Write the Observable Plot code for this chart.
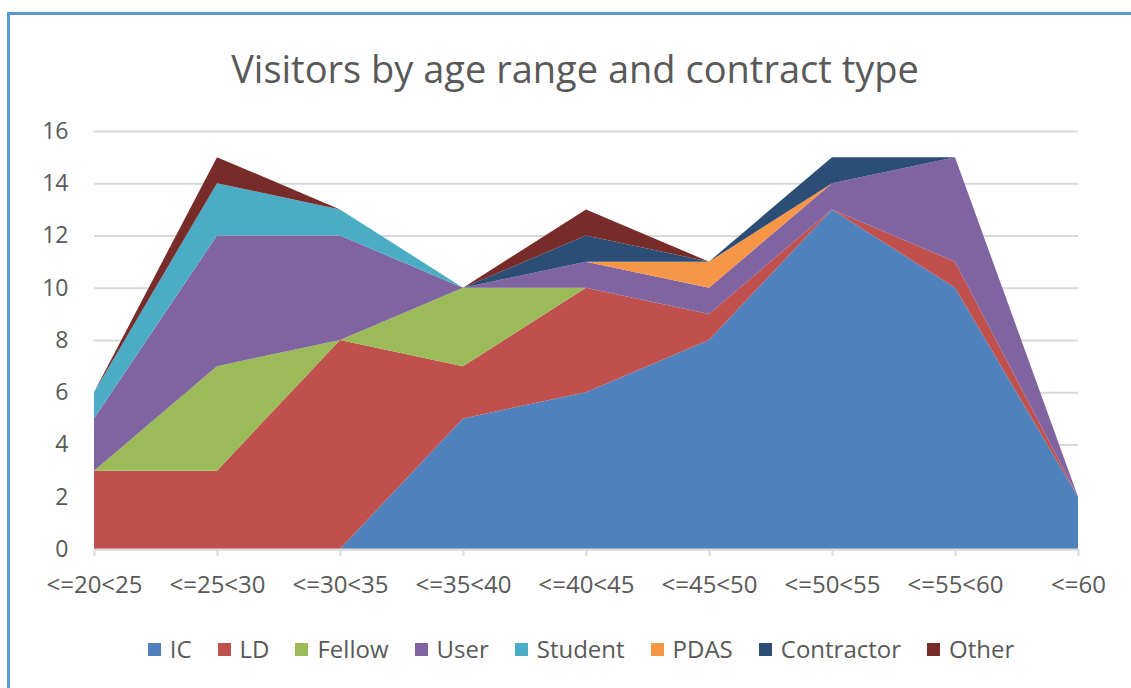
<!DOCTYPE html>
<html>
<head>
<meta charset="utf-8">
<script src="https://cdn.jsdelivr.net/npm/d3@7"></script>
<script src="https://cdn.jsdelivr.net/npm/@observablehq/plot@0.6"></script>
<style>
  body { margin: 0; background: #fff; font-family: "Open Sans", "Noto Sans", sans-serif; }
  #frame { position: absolute; left: 7px; top: 12px; width: 1200px; height: 800px;
           border-left: 3px solid #5b9bd5; border-top: 3px solid #5b9bd5; box-sizing: border-box; }
  #wrap { position: relative; width: 1131px; height: 688px; overflow: hidden; }
  #title { position: absolute; top: 42px; left: 0; width: 1150px; text-align: center;
           font-size: 38px; line-height: 52px; color: #595959; }
  #chart { position: absolute; top: 100px; left: 0; }
  #legend { position: absolute; top: 632px; left: 0; width: 1162px; display: flex; justify-content: center;
            gap: 26px; font-size: 24px; line-height: 34px; color: #595959; }
  #legend span.item { display: inline-flex; align-items: center; }
  #legend span.sw { display: inline-block; width: 13px; height: 13px; margin-right: 9px; }
  svg text { font-family: "Open Sans", "Noto Sans", sans-serif; }
</style>
</head>
<body>
<div id="wrap">
  <div id="frame"></div>
  <div id="title">Visitors by age range and contract type</div>
  <div id="chart"></div>
  <div id="legend"></div>
</div>
<script>
const categories = ["<=20<25", "<=25<30", "<=30<35", "<=35<40", "<=40<45", "<=45<50", "<=50<55", "<=55<60", "<=60"];
const seriesNames = ["IC", "LD", "Fellow", "User", "Student", "PDAS", "Contractor", "Other"];
const IC         = [0, 0, 0, 5, 6, 8, 13, 10, 2];
const LD         = [3, 3, 8, 2, 4, 1, 0, 1, 0];
const Fellow     = [0, 4, 0, 3, 0, 0, 0, 0, 0];
const User       = [2, 5, 4, 0, 1, 1, 1, 4, 0];
const Student    = [1, 2, 1, 0, 0, 0, 0, 0, 0];
const PDAS       = [0, 0, 0, 0, 0, 1, 0, 0, 0];
const Contractor = [0, 0, 0, 0, 1, 0, 1, 0, 0];
const Other      = [0, 1, 0, 0, 1, 0, 0, 0, 0];
const colors = ["#4f81bd", "#c0504d", "#9bbb59", "#8064a2", "#4bacc6", "#f79646", "#2c4d75", "#772c2a"];
const yTicks = [0, 2, 4, 6, 8, 10, 12, 14, 16];

const seriesValues = [IC, LD, Fellow, User, Student, PDAS, Contractor, Other];
const data = [];
seriesNames.forEach((s, si) => {
  categories.forEach((c, ci) => data.push({ series: s, idx: ci, value: seriesValues[si][ci] }));
});

const plot = Plot.plot({
  width: 1131,
  height: 520,
  marginTop: 31,
  marginBottom: 71,
  marginLeft: 94,
  marginRight: 53,
  x: { type: "linear", domain: [0, categories.length - 1], axis: null },
  y: { domain: [0, 16], axis: null },
  color: { domain: seriesNames, range: colors },
  marks: [
    Plot.gridY(yTicks, { stroke: "#d9d9d9", strokeOpacity: 1, strokeWidth: 2 }),
    Plot.areaY(data, { x: "idx", y: "value", z: "series", fill: "series", order: seriesNames, fillOpacity: 1 }),
    Plot.ruleY([0], { stroke: "#d9d9d9", strokeWidth: 2 }),
    Plot.ruleX(categories.map((c, i) => i), { x: d => d, y1: 0, y2: -0.27, stroke: "#d9d9d9", strokeWidth: 2 }),
    Plot.text(categories, { x: (d, i) => i, y: 0, text: d => d, dy: 36, fontSize: 24, fill: "#595959" }),
    Plot.text(yTicks, { x: 0, y: d => d, text: d => String(d), dx: -26, textAnchor: "end", fontSize: 23, fill: "#595959" })
  ]
});
document.getElementById("chart").appendChild(plot);

const legend = document.getElementById("legend");
seriesNames.forEach((s, i) => {
  const item = document.createElement("span");
  item.className = "item";
  const sw = document.createElement("span");
  sw.className = "sw";
  sw.style.background = colors[i];
  item.appendChild(sw);
  item.appendChild(document.createTextNode(s));
  legend.appendChild(item);
});
</script>
</body>
</html>
